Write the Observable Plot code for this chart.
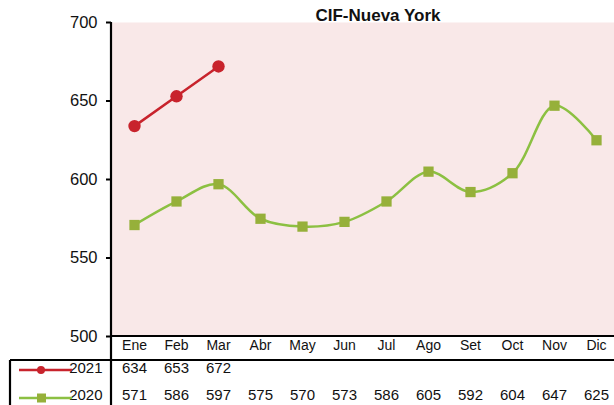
<!DOCTYPE html>
<html><head><meta charset="utf-8">
<script src="https://cdn.jsdelivr.net/npm/d3@7"></script>
<script src="https://cdn.jsdelivr.net/npm/@observablehq/plot@0.6"></script>
<style>
body{margin:0;background:#fff;}
#chart svg{display:block;}
</style>
</head><body><div id="chart"></div>
<script>
const months = ["Ene","Feb","Mar","Abr","May","Jun","Jul","Ago","Set","Oct","Nov","Dic"];
const values2021 = [634, 653, 672];
const values2020 = [571, 586, 597, 575, 570, 573, 586, 605, 592, 604, 647, 625];
const seriesNames = ["2021", "2020"];
const yTicks = [500, 550, 600, 650, 700];
const title = "CIF-Nueva York";

const d2021 = values2021.map((v, i) => ({month: months[i], value: v}));
const d2020 = values2020.map((v, i) => ({month: months[i], value: v}));

const RED = "#C8232C", GREEN_LINE = "#8CC042", GREEN_MARK = "#96B03A", PINK = "#F9E8E8";
const FONT = "'Liberation Sans Narrow','Arial Narrow','Liberation Sans',sans-serif";

const chart = Plot.plot({
  width: 614, height: 405,
  marginLeft: 111, marginRight: 0, marginTop: 22, marginBottom: 69,
  style: {fontFamily: FONT, background: "#fff", overflow: "visible"},
  x: {type: "point", domain: months, range: [129, 600], padding: 0, axis: null},
  y: {domain: [500, 700], label: null},
  marks: [
    Plot.frame({fill: PINK, stroke: null}),
    Plot.axisY({ticks: yTicks, label: null, tickSize: 5, tickPadding: 9, fontSize: 16.5, stroke: "#000", strokeWidth: 2, color: "#111"}),
    Plot.line(d2020, {x: "month", y: "value", curve: "catmull-rom", stroke: GREEN_LINE, strokeWidth: 2.5}),
    Plot.dot(d2020, {x: "month", y: "value", symbol: "square", fill: GREEN_MARK, r: 5.8}),
    Plot.line(d2021, {x: "month", y: "value", stroke: RED, strokeWidth: 2.5}),
    Plot.dot(d2021, {x: "month", y: "value", fill: RED, r: 6.2}),
    Plot.text(months, {x: d => d, frameAnchor: "bottom", dy: 13, fontSize: 14, fill: "#111"}),
    Plot.text(d2021, {x: "month", text: d => String(d.value), frameAnchor: "bottom", dy: 36, fontSize: 15, fill: "#111"}),
    Plot.text(d2020, {x: "month", text: d => String(d.value), frameAnchor: "bottom", dy: 63, fontSize: 15, fill: "#111"}),
    Plot.text([seriesNames[0]], {frameAnchor: "bottom-left", dx: -9, dy: 36, textAnchor: "end", fontSize: 15, fill: "#111"}),
    Plot.text([seriesNames[1]], {frameAnchor: "bottom-left", dx: -9, dy: 63, textAnchor: "end", fontSize: 15, fill: "#111"}),
    Plot.text([title], {frameAnchor: "top", dx: 15, dy: -14, fontSize: 17, fontWeight: "bold", fill: "#111", fontFamily: "'Liberation Sans',Arial,sans-serif"})
  ]
});
document.getElementById("chart").appendChild(chart);

// table borders and legend swatches, positioned from the plot's scales
const sy = chart.scale("y");
const svg = d3.select(chart);
const x0 = 111, xR = 614;
const yBottom = sy.apply(500), yTop = sy.apply(700);
const g = svg.append("g");
g.append("line").attr("x1", x0).attr("x2", x0).attr("y1", yTop).attr("y2", 405).attr("stroke", "#000").attr("stroke-width", 2.2);
g.append("line").attr("x1", x0).attr("x2", xR).attr("y1", yBottom).attr("y2", yBottom).attr("stroke", "#000").attr("stroke-width", 2.2);
g.append("line").attr("x1", 10).attr("x2", xR).attr("y1", yBottom + 24).attr("y2", yBottom + 24).attr("stroke", "#000").attr("stroke-width", 2.2);
g.append("line").attr("x1", 10).attr("x2", 10).attr("y1", yBottom + 24).attr("y2", 405).attr("stroke", "#000").attr("stroke-width", 2.2);
const ly1 = yBottom + 34, ly2 = yBottom + 62;
g.append("line").attr("x1", 19).attr("x2", 72).attr("y1", ly1).attr("y2", ly1).attr("stroke", RED).attr("stroke-width", 2.5);
g.append("circle").attr("cx", 41).attr("cy", ly1).attr("r", 4).attr("fill", RED);
g.append("line").attr("x1", 19).attr("x2", 72).attr("y1", ly2).attr("y2", ly2).attr("stroke", GREEN_LINE).attr("stroke-width", 2.5);
g.append("rect").attr("x", 37).attr("y", ly2 - 4.5).attr("width", 9).attr("height", 9).attr("fill", GREEN_MARK);
</script>
</body></html>
